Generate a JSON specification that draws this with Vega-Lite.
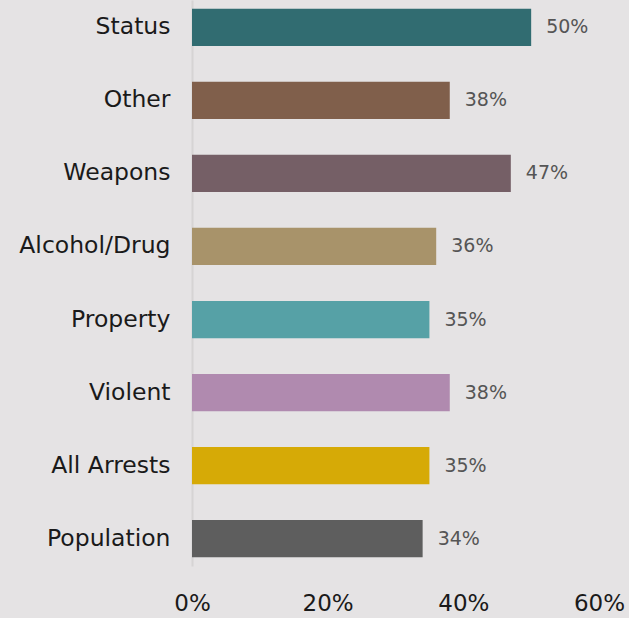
{
  "$schema": "https://vega.github.io/schema/vega-lite/v6.json",
  "width": 407,
  "height": 566,
  "autosize": {"type": "none"},
  "padding": {"left": 192, "top": 0, "right": 30, "bottom": 52},
  "background": "#e5e3e4",
  "config": {
    "view": {"stroke": null},
    "font": "DejaVu Sans"
  },
  "data": {
    "values": [
      {"category": "Status", "share": 0.50},
      {"category": "Other", "share": 0.38},
      {"category": "Weapons", "share": 0.47},
      {"category": "Alcohol/Drug", "share": 0.36},
      {"category": "Property", "share": 0.35},
      {"category": "Violent", "share": 0.38},
      {"category": "All Arrests", "share": 0.35},
      {"category": "Population", "share": 0.34}
    ]
  },
  "encoding": {
    "y": {
      "field": "category",
      "type": "nominal",
      "sort": null,
      "scale": {"paddingInner": 0.49, "paddingOuter": 0.12},
      "axis": {
        "title": null,
        "ticks": false,
        "domain": true,
        "domainColor": "#d6d4d4",
        "domainWidth": 2,
        "labelFontSize": 23.5,
        "labelColor": "#1a1a1a",
        "labelPadding": 22,
        "labelLimit": 300
      }
    },
    "x": {
      "field": "share",
      "type": "quantitative",
      "scale": {"domain": [0, 0.6], "nice": false},
      "axis": {
        "title": null,
        "values": [0, 0.2, 0.4, 0.6],
        "format": ".0%",
        "grid": false,
        "domain": false,
        "ticks": false,
        "labelFontSize": 23,
        "labelColor": "#1a1a1a",
        "labelPadding": 26,
        "labelFlush": false
      }
    }
  },
  "layer": [
    {
      "mark": {"type": "bar"},
      "encoding": {
        "color": {
          "field": "category",
          "type": "nominal",
          "legend": null,
          "scale": {
            "domain": ["Status", "Other", "Weapons", "Alcohol/Drug", "Property", "Violent", "All Arrests", "Population"],
            "range": ["#316c71", "#805f4b", "#755f66", "#a8936a", "#56a1a6", "#b08aaf", "#d6aa06", "#5e5e5e"]
          }
        }
      }
    },
    {
      "mark": {"type": "text", "align": "left", "dx": 15, "fontSize": 19, "color": "#555555"},
      "encoding": {
        "text": {"field": "share", "type": "quantitative", "format": ".0%"}
      }
    }
  ]
}
